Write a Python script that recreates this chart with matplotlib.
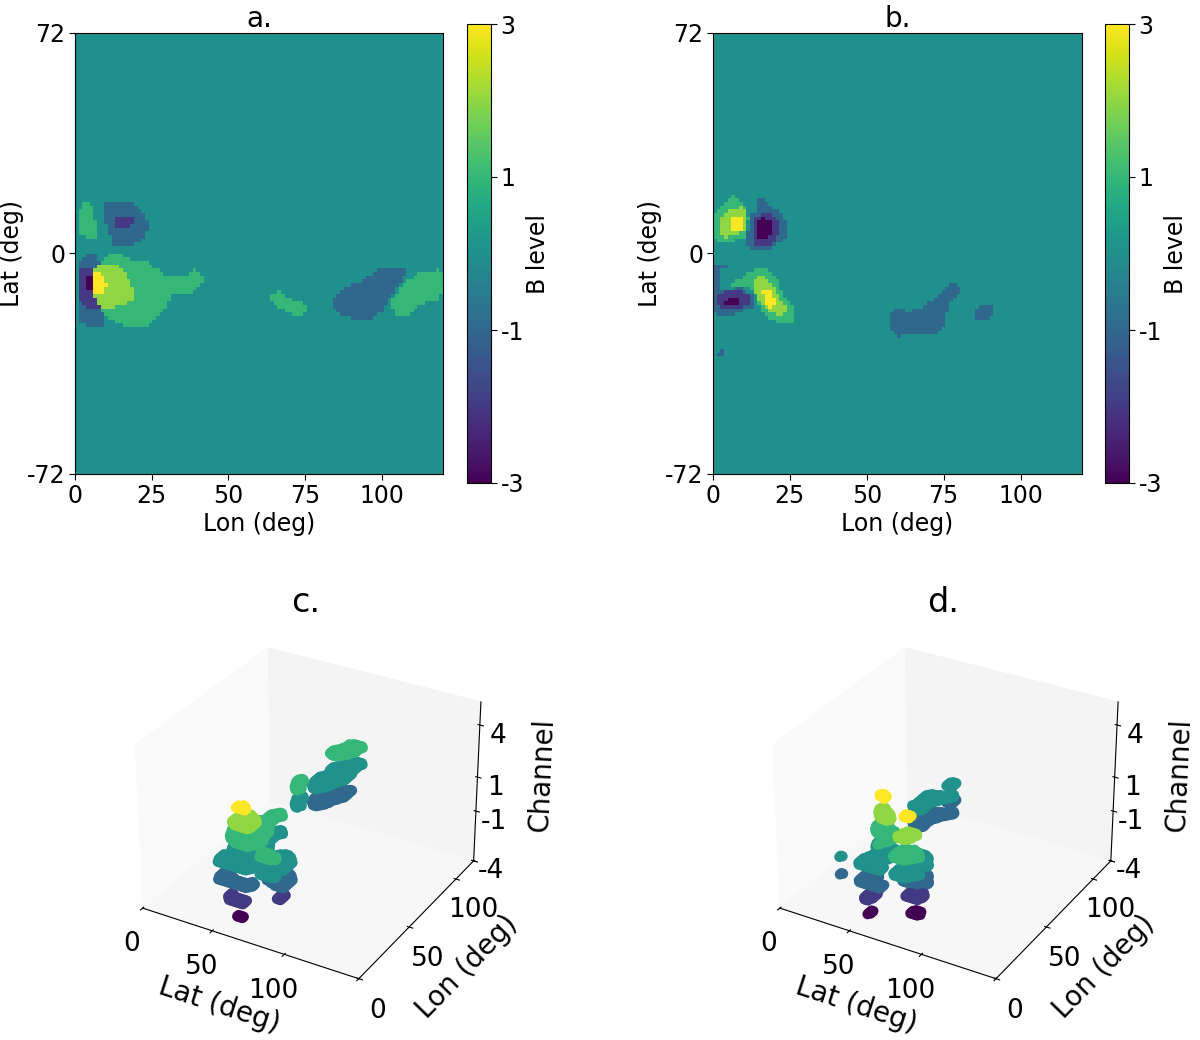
import numpy as np
import matplotlib
matplotlib.use("Agg")
import matplotlib.pyplot as plt
from matplotlib.path import Path

plt.rcParams["axes.unicode_minus"] = False

# regions: (level, [(lon, lat), ...]), painted weakest first
a_regions = [
    (1, [(1.1,13.1),(3.3,16.9),(5.4,15.8),(6.5,10.9),(8,5.5),(3.8,4.9),(1.6,6.6)]),
    (-1, [(9.0,14.2),(9.8,16.6),(17.4,16.9),(21.2,14.7),(22.8,11.5),(23.9,9.3),(22.3,4.4),(18,2),(12,2.2),(10.9,8.7),(9.2,12)]),
    (-1, [(1.1,-3.8),(3.3,-0.5),(7.6,-0.5),(8.1,-4.3),(8.1,-18.5),(9.8,-20.7),(9.6,-23.9),(4.9,-24.1),(1.6,-22.8),(1.1,-19.6)]),
    (1, [(8.7,-2.1),(10.9,-0.5),(15.2,-0.5),(19,-2.1),(24.5,-3.2),(29.4,-7),(37,-7.4),(39.1,-5.2),(41.8,-7),(42.1,-9.2),(40.2,-11.1),(38,-13.4),(34.8,-13.3),(32.1,-13),(30.4,-16.3),(27.2,-20.7),(22.8,-23.9),(16.9,-24.1),(10.3,-20.7),(7.6,-16.9),(6,-13),(6,-5.4)]),
    (1, [(63.3,-13.6),(66.3,-12.3),(70.7,-15.2),(76.1,-16.5),(76.1,-17.9),(72.8,-21),(67.9,-18.5),(64.7,-15.8)]),
    (-1, [(84.2,-14.7),(88.6,-10.9),(94,-8.7),(98.4,-5.4),(107.1,-4.3),(108.4,-6),(104.9,-10.9),(101.6,-16.3),(101.1,-18.5),(96.7,-21.2),(93.5,-22.1),(88.6,-20.7),(84.8,-19)]),
    (1, [(103.3,-15.2),(107.1,-9.8),(112.5,-6),(119,-5.2),(119.9,-7.6),(119.2,-15.2),(113.6,-16.3),(108.2,-20.1),(104.9,-20.1),(103.6,-17.9)]),
    (-2, [(12.8,12),(18.5,12),(19,9.8),(18,7.9),(14.1,7.9),(12.8,9.8)]),
    (-2, [(0.8,-4.9),(6,-4.3),(6,-13),(8.1,-17.4),(8.1,-18.5),(3.8,-17.9),(1.1,-14.1)]),
    (2, [(6.5,-4.9),(9.8,-3),(14.1,-3.2),(17.4,-8.1),(19.6,-13),(19.6,-15),(14.1,-17.2),(9.8,-18.3),(8.1,-16.9),(6.2,-13.6)]),
    (-3, [(3.6,-8),(6.1,-6.5),(6.1,-12.8),(3.6,-11.5)]),
    (3, [(6,-6),(8.7,-6.3),(9.8,-9.2),(10.9,-9.8),(9.8,-10.6),(9.8,-13.4),(6.2,-13.4)]),
]

b_regions = [
    (1, [(0.1,13.1),(3.9,16.9),(7,18.9),(9.9,16.4),(11.5,12),(11,5.5),(5.6,3.8),(2.3,2.8),(0.1,5.5)]),
    (-1, [(13.9,18),(17,18),(18,15.8),(21.9,13.7),(24,9.3),(23.5,4.9),(19.1,1.7),(12.1,0.9),(11,2.8),(11.5,7.7),(12.1,12.6),(13.9,13.7)]),
    (-1, [(41.2,13.8),(43.1,13.8),(43.1,13.1),(41.2,13.1)]),
    (-1, [(0.1,-3.2),(3.4,-3.2),(4.8,-4.5),(2.8,-5.4),(2.8,-12),(9.4,-11.1),(11,-13),(13.2,-13.6),(12.6,-17.4),(8.3,-19),(6.1,-20.1),(1.7,-20.9),(0.4,-19),(0.1,-13)]),
    (1, [(6.1,-9.2),(9.9,-8.1),(11.5,-6),(15.3,-4.3),(18.6,-5.4),(20.8,-8.1),(23,-13.6),(25.9,-16.9),(27,-22.3),(23.5,-23.4),(19.1,-21.8),(15.9,-18.5),(13.7,-13),(11.5,-10.3),(6.6,-10.3)]),
    (-1, [(57.2,-20.7),(59.4,-17.4),(62.1,-17.4),(62.6,-18.7),(68.1,-18.5),(70.2,-15.8),(74.6,-13),(77.3,-9.4),(79.5,-9.8),(80.2,-12.5),(76.7,-16.9),(75.1,-23.4),(72.4,-26.1),(63.2,-26.3),(61,-27.2),(58.8,-26.1),(57.2,-22.8)]),
    (-1, [(84.4,-19),(87.1,-16.3),(90.3,-16.5),(91.4,-19),(89.8,-21.8),(86,-22.1)]),
    (-1, [(1,-32.1),(3.4,-31.6),(3.7,-33.4),(1,-33.4)]),
    (2, [(1.7,9.8),(4.5,14.2),(9.4,15.1),(11.3,13.1),(10.7,7.1),(6.6,6),(3.9,5.3),(2,7.7)]),
    (-2, [(13.2,12),(19.1,13.7),(21.3,9.8),(21.5,6),(18.6,2.8),(13.7,2.8),(12.9,6.6)]),
    (-2, [(0.9,-13.6),(3.9,-12.5),(8.8,-12.5),(11.5,-13.6),(11.7,-16.3),(7.7,-18.5),(2.8,-17.9),(0.9,-16.3)]),
    (2, [(12.9,-8.7),(15.3,-7.4),(18,-8.1),(20.2,-12),(24,-18),(22.9,-20.1),(19.1,-19.6),(15.9,-16.9),(13.7,-12.5)]),
    (3, [(5.9,12),(9.9,12),(9.9,7.7),(5.9,7.7)]),
    (-3, [(14.2,10.4),(16.7,12),(19.7,9.3),(19.7,6),(17,4.9),(14.2,5.5)]),
    (-3, [(3.7,-15.4),(5.6,-14.1),(7.7,-14.3),(8.8,-15.4),(6.6,-17.2),(3.9,-17.2)]),
    (3, [(15.9,-12.5),(18,-11.4),(19.7,-13.6),(20.8,-16.3),(18.6,-17.4),(16.7,-15.8)]),
]

map_titles = ["a.", "b."]
cube_titles = ["c.", "d."]
lon_ticks = [0, 25, 50, 75, 100]
lat_ticks = [-72, 0, 72]
level_ticks = [-3, -1, 1, 3]
channels = [-3, -2, -1, 0, 1, 2, 3]
channel_ticks = [-4, -1, 1, 4]

cell = 1.2
lon = np.arange(0, 120, cell) + cell / 2
lat = np.arange(-72, 72, cell) + cell / 2
lon_grid, lat_grid = np.meshgrid(lon, lat)


def raster(regions):
    img = np.zeros(lon_grid.shape)
    pts = np.column_stack([lon_grid.ravel(), lat_grid.ravel()])
    for level, poly in regions:
        inside = Path(poly + [poly[0]]).contains_points(pts).reshape(img.shape)
        img[inside] = level
    return img


def draw_map(fig, box, cbox, img, title):
    W, H = 1200.0, 1040.0
    ax = fig.add_axes([box[0]/W, 1-box[3]/H, (box[1]-box[0])/W, (box[3]-box[2])/H])
    im = ax.imshow(img, origin="lower", extent=[0, 120, -72, 72], aspect="auto",
                   cmap="viridis", vmin=-3, vmax=3, interpolation="nearest")
    ax.set_xticks(lon_ticks)
    ax.set_yticks(lat_ticks)
    ax.tick_params(labelsize=17, length=4, pad=3)
    ax.set_xlabel("Lon (deg)", fontsize=17, labelpad=3)
    ax.set_ylabel("Lat (deg)", fontsize=17, labelpad=2)
    ax.set_title(title, fontsize=20, pad=2)
    cax = fig.add_axes([cbox[0]/W, 1-cbox[3]/H, (cbox[1]-cbox[0])/W, (cbox[3]-cbox[2])/H])
    cb = fig.colorbar(im, cax=cax)
    cb.set_ticks(level_ticks)
    cb.ax.tick_params(labelsize=17, length=4, pad=3)
    cb.set_label("B level", fontsize=17, labelpad=1)


def draw_cube(fig, rect, img, title):
    ax = fig.add_axes(rect, projection="3d")
    ax.computed_zorder = False
    x = lat_grid + 76
    y = lon_grid
    for ch in channels:
        if ch > 0:
            mask = img >= ch
        elif ch < 0:
            mask = img <= ch
        else:
            mask = img != 0
        ax.scatter(x[mask], y[mask], np.full(mask.sum(), ch), c=np.full(mask.sum(), ch),
                   cmap="viridis", vmin=-3, vmax=3, s=55, depthshade=False, linewidths=0)
    ax.set_xlim(0, 150)
    ax.set_ylim(0, 120)
    ax.set_zlim(-4, 5.3)
    ax.grid(False)
    ax.xaxis.set_pane_color((0.98, 0.98, 0.98, 1))
    ax.yaxis.set_pane_color((0.955, 0.955, 0.955, 1))
    ax.zaxis.set_pane_color((0.97, 0.97, 0.97, 1))
    ax.set_xticks([0, 50, 100, 150], ["0", "50", "100", ""])
    ax.set_yticks([0, 50, 100, 120], ["0", "50", "100", ""])
    ax.set_zticks(channel_ticks)
    ax.tick_params(labelsize=19)
    ax.tick_params(axis="x", pad=4)
    ax.tick_params(axis="y", pad=4)
    ax.tick_params(axis="z", pad=0)
    ax.set_xlabel("Lat (deg)", fontsize=20, labelpad=11)
    ax.set_ylabel("Lon (deg)", fontsize=20, labelpad=11)
    ax.set_zlabel("Channel", fontsize=20, labelpad=8)
    ax.set_title(title, fontsize=24, y=1.08)


fig = plt.figure(figsize=(12, 10.4), dpi=100)
img_a = raster(a_regions)
img_b = raster(b_regions)
draw_map(fig, (75, 443, 33, 474), (467, 491, 24, 483), img_a, map_titles[0])
draw_map(fig, (713, 1082, 33, 474), (1105, 1129, 24, 483), img_b, map_titles[1])
draw_cube(fig, [0.0875, 0.0356, 0.335, 0.37], img_a, cube_titles[0])
draw_cube(fig, [0.6185, 0.0356, 0.335, 0.37], img_b, cube_titles[1])
fig.savefig("out.png", dpi=100)
